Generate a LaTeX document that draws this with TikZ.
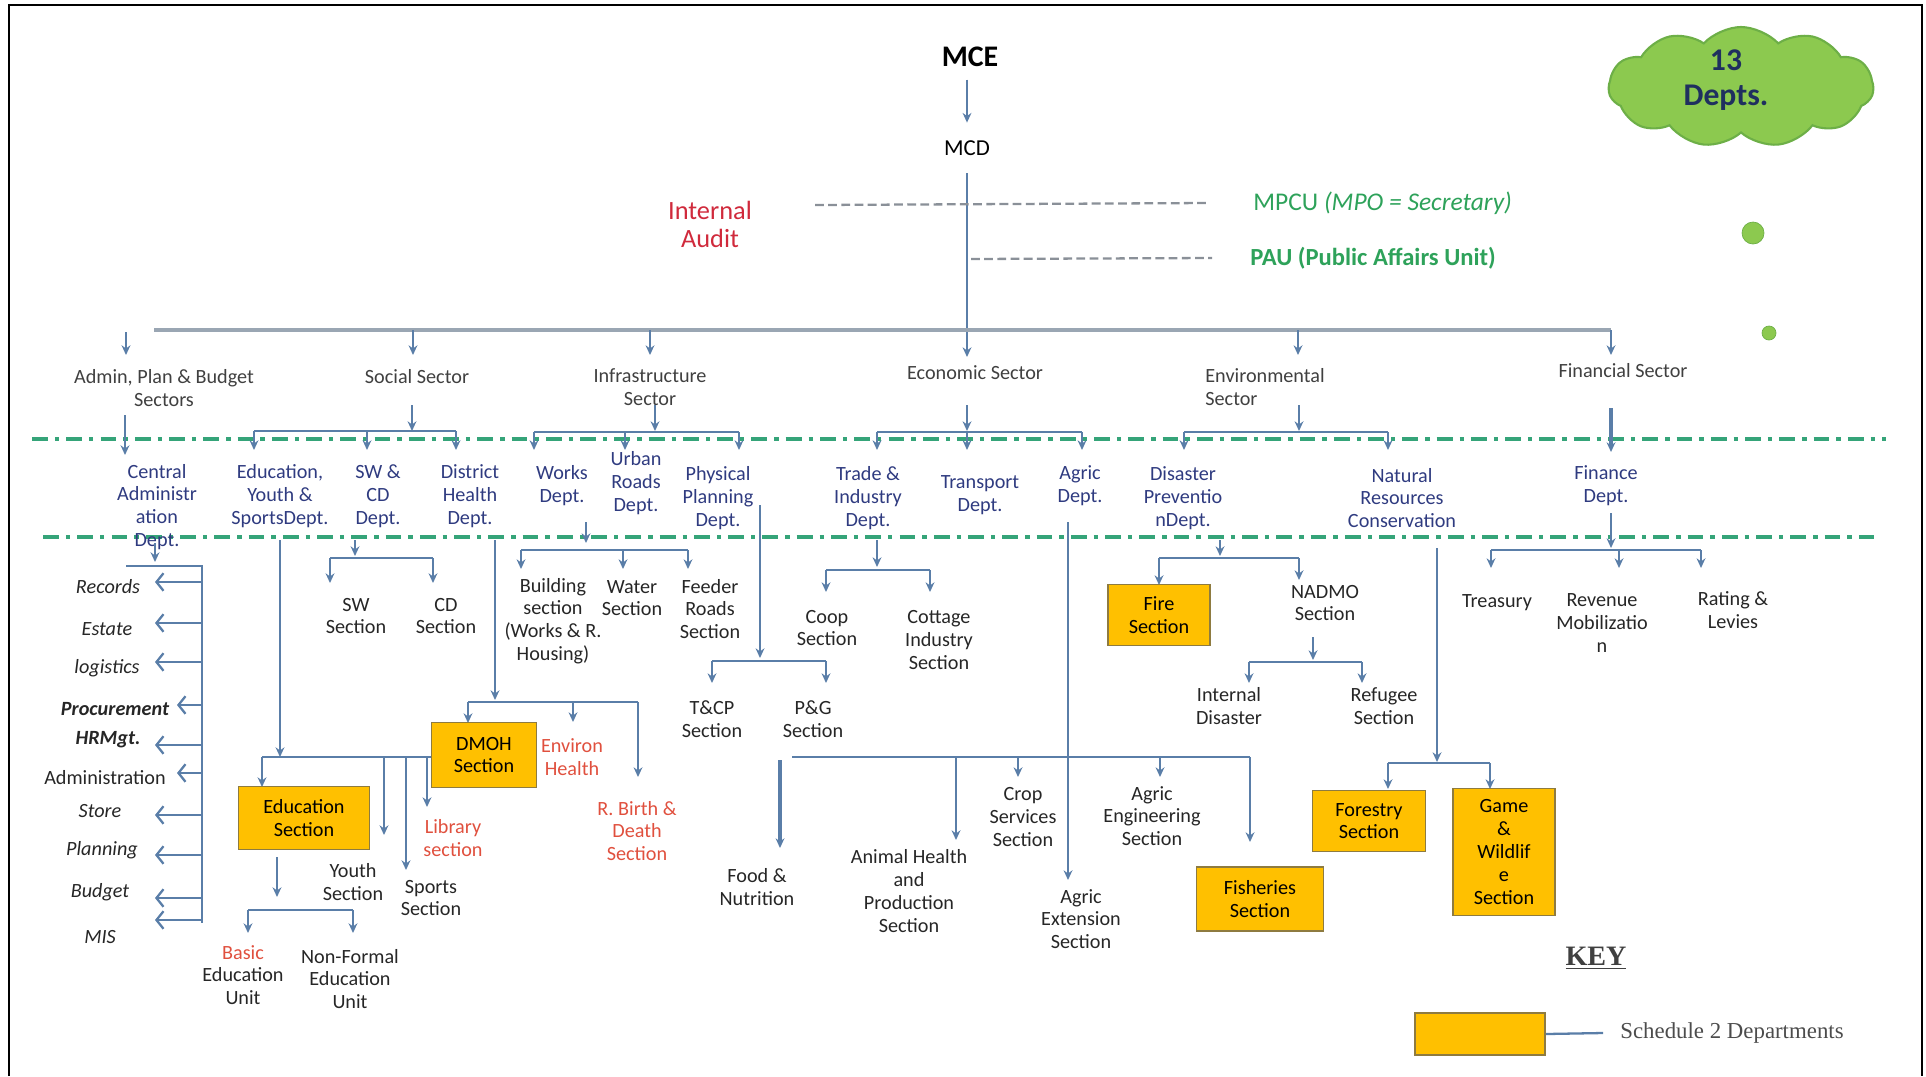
\documentclass[tikz,border=0pt]{standalone}
\usepackage{fontspec}
\setmainfont{Carlito}
\newfontfamily\keyfont{Liberation Serif}
\usepackage{tikz}
\usetikzlibrary{arrows.meta,shapes.symbols}
\definecolor{steel}{HTML}{5A7EA8}
\definecolor{barc}{HTML}{9AA6B3}
\definecolor{bandc}{HTML}{35A479}
\definecolor{unitc}{HTML}{2EA25A}
\definecolor{auditc}{HTML}{D02A3C}
\definecolor{redtx}{HTML}{E0503E}
\definecolor{navy}{HTML}{2F3B80}
\definecolor{schedfill}{HTML}{FFC000}
\definecolor{schededge}{HTML}{8E7B40}
\definecolor{cloudg}{HTML}{8CC94F}
\definecolor{cloude}{HTML}{6DAF47}
\definecolor{deptno}{HTML}{1F2F5F}
\definecolor{linkc}{HTML}{8A9098}
\newcommand{\lbf}{\fontsize{11.5}{13}\selectfont}

\begin{document}
\begin{tikzpicture}[x=0.02cm,y=-0.02cm,
  lbl/.style={font=\lbf,align=center,inner sep=0pt,text=black!85},
  dept/.style={lbl,text=navy},
  sect/.style={lbl,text=black!75},
  redl/.style={lbl,text=redtx},
  listitem/.style={lbl,font=\lbf\itshape},
  schedbox/.style={lbl,draw=schededge,fill=schedfill,line width=1.1pt,text=black},
  ln/.style={draw=steel,line width=1.3pt},
  ar/.style={ln,-{Stealth[length=5.5pt,width=5pt]}},
  barb/.style={ln,-{Straight Barb[length=4pt,width=10pt]}},
  band/.style={draw=bandc,line width=2.1pt,dash pattern=on 9pt off 4pt on 2.5pt off 4pt},
  link/.style={draw=linkc,line width=1.3pt,dash pattern=on 5pt off 2.5pt},
]
\useasboundingbox (0,0) rectangle (1926,1076);
\draw[line width=1.3pt] (9,1076) -- (9,5) -- (1922,5) -- (1922,1076);

% top: MCE, MCD and the units beside them
\node[font=\fontsize{17}{19}\selectfont\bfseries,inner sep=7pt] (mce) at (970,57) {MCE};
\node[font=\fontsize{13}{15}\selectfont,inner sep=10pt] (mcd) at (967,148) {MCD};
\draw[ar] (mce.south -| mcd) -- (mcd.north);
\draw[ar] (mcd.south) -- (967,357);
\node[font=\fontsize{15}{16}\selectfont,text=auditc,align=center,inner sep=0pt] (audit) at (710,224) {Internal\\Audit};
\node[anchor=west,inner sep=0pt,text=unitc,font=\fontsize{14.5}{16}\selectfont] (mpcu) at (1253,203) {MPCU \textit{(MPO = Secretary)}};
\node[anchor=west,inner sep=0pt,text=unitc,font=\fontsize{14}{16}\selectfont\bfseries] (pau) at (1250,258) {PAU (Public Affairs Unit)};
\draw[link] (815,205) -- ([xshift=-0.9cm]mpcu.west);
\draw[link] (971,259) -- ([xshift=-0.76cm]pau.west);
\node[cloud,cloud puffs=11,cloud puff arc=95,aspect=2.3,draw=cloude,fill=cloudg,line width=1.2pt,
  minimum width=5.3cm,minimum height=2.4cm,inner sep=0pt] (cloud) at (1741,87) {};
\node[align=center,text=deptno,inner sep=0pt,font=\fontsize{18}{20}\selectfont\bfseries] (depts) at (1726,80) {13\\Depts.};
\node[circle,fill=cloudg,draw=cloude,minimum size=0.44cm,inner sep=0pt] (dot1) at (1753,233) {};
\node[circle,fill=cloudg,draw=cloude,minimum size=0.28cm,inner sep=0pt] (dot2) at (1769,333) {};

% sectors
\draw[draw=barc,line width=2.4pt] (154,330) -- (1611,330);
\foreach \x in {413,650,1298,1611} \draw[ar] (\x,330) -- (\x,355);
\draw[ar] (126,332) -- (126,355);
\node[sect] (sadm) at (164,388) {Admin, Plan \& Budget\\Sectors};
\node[sect] (ssoc) at (417,377) {Social Sector};
\node[sect] (sinf) at (650,387) {Infrastructure\\Sector};
\node[sect] (seco) at (975,373) {Economic Sector};
\node[sect,anchor=west,align=left] (senv) at (1205,387) {Environmental\\Sector};
\node[sect] (sfin) at (1623,371) {Financial Sector};

\draw[band] (32,439) -- (1886,439);
\draw[band] (43,537) -- (1874,537);

% sectors to departments
\draw[ar] (125,415) -- (125,455);
\draw[ar] (412,405) -- (412,431);
\draw[ln] (254,431) -- (456,431);
\foreach \x in {254,367,456} \draw[ar] (\x,431) -- (\x,450);
\draw[ar] (655,405) -- (655,431);
\draw[ln] (534,432) -- (739,432);
\foreach \x in {534,625,739} \draw[ar] (\x,432) -- (\x,450);
\draw[ar] (967,405) -- (967,431);
\draw[ln] (877,432) -- (1082,432);
\foreach \x in {877,967,1082} \draw[ar] (\x,432) -- (\x,450);
\draw[ar] (1299,405) -- (1299,431);
\draw[ln] (1184,432) -- (1388,432);
\foreach \x in {1184,1388} \draw[ar] (\x,432) -- (\x,450);
\draw[ar,line width=2pt] (1611,408) -- (1611,452);

% departments
\node[dept] (dcad) at (157,507) {Central\\Administr\\ation\\Dept.};
\node[dept] (dedu) at (280,496) {Education,\\Youth \&\\SportsDept.};
\node[dept] (dsw) at (378,496) {SW \&\\CD\\Dept.};
\node[dept] (ddh) at (470,496) {District\\Health\\Dept.};
\node[dept] (dwk) at (562,486) {Works\\Dept.};
\node[dept] (dur) at (636,483) {Urban\\Roads\\Dept.};
\node[dept] (dpp) at (718,498) {Physical\\Planning\\Dept.};
\node[dept] (dti) at (868,498) {Trade \&\\Industry\\Dept.};
\node[dept] (dtr) at (980,495) {Transport\\Dept.};
\node[dept] (dag) at (1080,486) {Agric\\Dept.};
\node[dept] (ddp) at (1183,498) {Disaster\\Preventio\\nDept.};
\node[dept] (dnr) at (1402,498) {Natural\\Resources\\Conservation};
\node[dept] (dfi) at (1606,486) {Finance\\Dept.};

% central administration units
\draw[ar] (155,543) -- (155,562);
\draw[ln] (126,566) -- (202,566) -- (202,923);
\foreach \y/\t in {582/155,623/155,662/155,705/177,745/155,773/177,815/155,855/155,898/155,920/155}
  \draw[barb] (202,\y) -- (\t,\y);
\node[listitem] (urec) at (108,587) {Records};
\node[listitem] (uest) at (107,629) {Estate};
\node[listitem] (ulog) at (107,668) {logistics};
\node[listitem,font=\lbf\bfseries\itshape] (upro) at (115,709) {Procurement};
\node[listitem,font=\lbf\bfseries\itshape] (uhrm) at (108,740) {HRMgt.};
\node[lbl] (uadm) at (105,778) {Administration};
\node[listitem] (usto) at (100,811) {Store};
\node[listitem] (upla) at (102,850) {Planning};
\node[listitem] (ubud) at (100,892) {Budget};
\node[listitem] (umis) at (100,937) {MIS};

% education
\draw[ar] (280,540) -- (280,757);
\draw[ln] (262,757) -- (432,757);
\draw[ar] (262,757) -- (262,787);
\draw[ar] (384,757) -- (384,835);
\draw[ar] (406,757) -- (406,870);
\draw[ar] (427,757) -- (427,807);
\node[schedbox,minimum width=2.62cm,minimum height=1.26cm] (edu) at (304,818) {Education\\Section};
\node[lbl] (youth) at (353,882) {Youth\\Section};
\node[lbl] (sport) at (431,898) {Sports\\Section};
\node[redl] (libr) at (453,838) {Library\\section};
\draw[ar] (277,857) -- (277,897);
\draw[ln] (248,910) -- (353,910);
\foreach \x in {248,353} \draw[ar] (\x,910) -- (\x,933);
\node[lbl] (basic) at (243,975) {\textcolor{redtx}{Basic}\\Education\\Unit};
\node[lbl] (nonf) at (350,979) {Non-Formal\\Education\\Unit};

% district health
\draw[ar] (495,540) -- (495,700);
\draw[ln] (468,702) -- (638,702);
\draw[ar] (468,702) -- (468,723);
\draw[ar] (573,702) -- (573,722);
\draw[ar] (638,702) -- (638,777);
\node[schedbox,minimum width=2.1cm,minimum height=1.3cm] (dmoh) at (484,755) {DMOH\\Section};
\node[redl] (envh) at (572,757) {Environ\\Health};
\node[redl] (birth) at (637,831) {R. Birth \&\\Death\\Section};

% sw and cd
\draw[ar] (355,540) -- (355,556);
\draw[ln] (330,558) -- (433,558);
\foreach \x in {330,433} \draw[ar] (\x,558) -- (\x,583);
\node[lbl] (swsec) at (356,616) {SW\\Section};
\node[lbl] (cdsec) at (446,616) {CD\\Section};

% works
\draw[ar] (586,522) -- (586,543);
\draw[ln] (521,550) -- (688,550);
\foreach \x in {521,623,688} \draw[ar] (\x,550) -- (\x,569);
\node[lbl] (bldg) at (553,621) {Building\\section\\(Works \& R.\\Housing)};
\node[lbl] (water) at (632,598) {Water\\Section};
\node[lbl] (feed) at (710,609) {Feeder\\Roads\\Section};

% physical planning
\draw[ar] (760,505) -- (760,658);
\draw[ln] (712,661) -- (826,661);
\foreach \x in {712,826} \draw[ar] (\x,661) -- (\x,683);
\node[lbl] (tcp) at (712,719) {T\&CP\\Section};
\node[lbl] (pg) at (813,719) {P\&G\\Section};

% trade and industry
\draw[ar] (877,540) -- (877,567);
\draw[ln] (826,570) -- (930,570);
\foreach \x in {826,930} \draw[ar] (\x,570) -- (\x,592);
\node[lbl] (coop) at (827,628) {Coop\\Section};
\node[lbl] (cott) at (939,640) {Cottage\\Industry\\Section};

% agric
\draw[ar] (1068,522) -- (1068,880);
\node[lbl] (aext) at (1081,919) {Agric\\Extension\\Section};
\draw[ln] (792,757) -- (1250,757);
\draw[ar,line width=2.2pt] (780,760) -- (780,848);
\draw[ar] (956,757) -- (956,840);
\draw[ar] (1018,757) -- (1018,777);
\draw[ar] (1160,757) -- (1160,777);
\draw[ar] (1250,757) -- (1250,842);
\node[lbl] (food) at (757,887) {Food \&\\Nutrition};
\node[lbl] (anim) at (909,891) {Animal Health\\and\\Production\\Section};
\node[lbl] (crop) at (1023,817) {Crop\\Services\\Section};
\node[lbl] (aeng) at (1152,816) {Agric\\Engineering\\Section};
\node[schedbox,minimum width=2.54cm,minimum height=1.28cm] (fish) at (1260,899) {Fisheries\\Section};

% disaster prevention
\draw[ar] (1220,540) -- (1220,556);
\draw[ln] (1159,558) -- (1299,558);
\draw[ar] (1159,558) -- (1159,585);
\draw[ar] (1299,558) -- (1299,580);
\node[schedbox,minimum width=2.04cm,minimum height=1.22cm] (fire) at (1159,615) {Fire\\Section};
\node[lbl] (nadmo) at (1325,603) {NADMO\\Section};
\draw[ar] (1313,637) -- (1313,660);
\draw[ln] (1249,662) -- (1362,662);
\foreach \x in {1249,1362} \draw[ar] (\x,662) -- (\x,683);
\node[lbl] (intd) at (1229,706) {Internal\\Disaster};
\node[lbl] (refu) at (1384,706) {Refugee\\Section};

% natural resources
\draw[ar] (1437,548) -- (1437,762);
\draw[ln] (1388,763) -- (1490,763);
\foreach \x in {1388,1490} \draw[ar] (\x,763) -- (\x,789);
\node[schedbox,minimum width=2.26cm,minimum height=1.22cm] (fore) at (1369,821) {Forestry\\Section};
\node[schedbox,minimum width=2.04cm,minimum height=2.54cm] (game) at (1504,852) {Game\\\&\\Wildlif\\e\\Section};

% finance
\draw[ar] (1611,513) -- (1611,548);
\draw[ln] (1491,550) -- (1701,550);
\foreach \x in {1491,1619,1701} \draw[ar] (\x,550) -- (\x,568);
\node[lbl] (treas) at (1497,603) {Treasury};
\node[lbl] (reven) at (1602,623) {Revenue\\Mobilizatio\\n};
\node[lbl] (rate) at (1733,610) {Rating \&\\Levies};

% key
\node[font=\keyfont\fontsize{16}{18}\selectfont\bfseries,text=black!75,inner sep=0pt] (key) at (1596,958) {\underline{KEY}};
\node[schedbox,minimum width=2.6cm,minimum height=0.84cm] (keybox) at (1480,1034) {};
\node[anchor=west,inner sep=0pt,font=\keyfont\fontsize{13}{15}\selectfont,text=black!70] (keytxt) at (1620,1033) {Schedule 2 Departments};
\draw[ln] (keybox.east) -- ([xshift=-0.34cm]keytxt.west);
\end{tikzpicture}
\end{document}
